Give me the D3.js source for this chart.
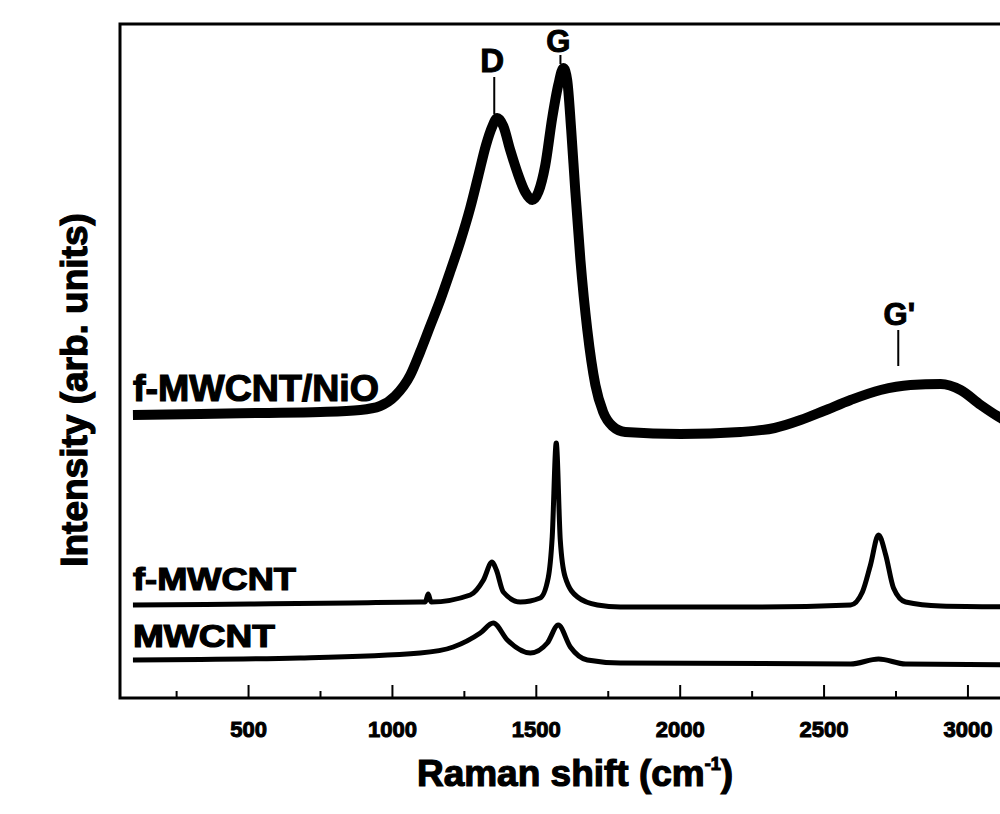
<!DOCTYPE html>
<html>
<head>
<meta charset="utf-8">
<script src="https://cdn.jsdelivr.net/npm/d3@7"></script>
<style>
  body { margin: 0; background: #fff; }
  text { font-family: "Liberation Sans", Arial, sans-serif; font-weight: bold; fill: #000; }
</style>
</head>
<body>
<script>
// Raman shift (cm-1) and intensity (arb. units)
const nioShift = [100, 334, 542, 751, 890, 959, 1011, 1064, 1098, 1133, 1168, 1202, 1237, 1272, 1300, 1327, 1348, 1366, 1387, 1411, 1439, 1463, 1488, 1509, 1533, 1557, 1578, 1596, 1609, 1623, 1637, 1655, 1679, 1707, 1734, 1766, 1811, 2003, 2211, 2330, 2420, 2500, 2594, 2698, 2802, 2907, 2976, 3046, 3115, 3185];
const nioInt   = [283, 284, 285, 286, 288, 292, 302, 323, 346, 372, 398, 426, 456, 490, 522, 553, 571, 580, 572, 548, 523, 506, 498, 506, 533, 580, 613, 630, 618, 568, 508, 438, 368, 313, 286, 272, 266, 264, 266, 270, 278, 287, 298, 308, 313, 314, 308, 293, 280, 270];

const fShift = [100, 507, 855, 1098, 1116, 1126, 1136, 1272, 1318, 1348, 1363, 1387, 1446, 1515, 1543, 1557, 1571, 1585, 1602, 1645, 1714, 1794, 2246, 2594, 2635, 2663, 2691, 2716, 2743, 2785, 2907, 3185];
const fInt   = [93, 94, 95, 96, 96, 104, 96, 103, 118, 136, 128, 106, 96, 100, 120, 161, 255, 158, 121, 101, 93, 91, 91, 93, 106, 133, 163, 143, 110, 96, 92, 91];

const mShift = [100, 681, 1098, 1213, 1307, 1352, 1401, 1481, 1540, 1578, 1620, 1679, 1794, 2594, 2691, 2785, 3185];
const mInt   = [38, 40, 45, 51, 65, 75, 58, 45, 55, 73, 51, 38, 35, 34, 39, 34, 33];

const seriesNames = ['f-MWCNT/NiO', 'f-MWCNT', 'MWCNT'];
const majorTicks = [500, 1000, 1500, 2000, 2500, 3000];
const minorTicks = [250, 750, 1250, 1750, 2250, 2750];
const peakNames = ['D', 'G', "G'"];
const peakShift = [1366, 1596, 2770];
const peakInt   = [580, 630, 328];

const width = 1000;
const height = 814;
const plotLeft = 120, plotTop = 24, plotBottom = 698, plotRight = 1025;

const x = d3.scaleLinear().domain([55, 3200]).range([plotLeft, plotRight]);
const y = d3.scaleLinear().domain([0, 674]).range([plotBottom, plotTop]);

const svg = d3.select('body').append('svg')
  .attr('width', width)
  .attr('height', height);

svg.append('defs').append('clipPath')
  .attr('id', 'plot')
  .append('rect')
  .attr('x', plotLeft).attr('y', plotTop)
  .attr('width', plotRight - plotLeft).attr('height', plotBottom - plotTop);

const line = d3.line()
  .x(d => x(d[0]))
  .y(d => y(d[1]))
  .curve(d3.curveMonotoneX);

const series = [
  { name: seriesNames[0], pts: d3.zip(nioShift, nioInt), w: 10 },
  { name: seriesNames[1], pts: d3.zip(fShift, fInt), w: 5 },
  { name: seriesNames[2], pts: d3.zip(mShift, mInt), w: 5 }
];

// spectra
svg.append('g').attr('clip-path', 'url(#plot)')
  .selectAll('path')
  .data(series)
  .enter()
    .append('path')
    .attr('d', d => line(d.pts))
    .attr('fill', 'none')
    .attr('stroke', '#000')
    .attr('stroke-width', d => d.w)
    .attr('stroke-linejoin', 'round');

// bottom axis, ticks point inward
const axis = svg.append('g')
  .attr('transform', `translate(0,${plotBottom})`)
  .call(d3.axisBottom(x).tickValues(majorTicks).tickFormat(d3.format('d'))
    .tickSize(-13).tickPadding(23).tickSizeOuter(0));
axis.select('.domain').remove();
axis.selectAll('line').attr('stroke-width', 2);
axis.selectAll('text')
  .style('font-size', '22px')
  .attr('stroke', '#000').attr('stroke-width', 1);

svg.append('g')
  .attr('transform', `translate(0,${plotBottom})`)
  .call(d3.axisBottom(x).tickValues(minorTicks).tickSize(-7).tickFormat(''))
  .call(g => g.select('.domain').remove())
  .selectAll('line').attr('stroke-width', 2);

// frame
svg.append('rect')
  .attr('x', plotLeft).attr('y', plotTop)
  .attr('width', plotRight - plotLeft).attr('height', plotBottom - plotTop)
  .attr('fill', 'none')
  .attr('stroke', '#000')
  .attr('stroke-width', 3);

// series labels
const labelPos = [[133, 401, 246], [133, 590, 163], [133, 647, 142]];
svg.append('g')
  .selectAll('text')
  .data(seriesNames)
  .enter()
    .append('text')
    .attr('x', (d, i) => labelPos[i][0])
    .attr('y', (d, i) => labelPos[i][1])
    .attr('textLength', (d, i) => labelPos[i][2])
    .attr('lengthAdjust', 'spacingAndGlyphs')
    .style('font-size', (d, i) => i === 0 ? '36px' : '31px')
    .attr('stroke', '#000').attr('stroke-width', 1.2)
    .text(d => d);

// peak markers
const peakLabelY = [72, 52, 325];
const peakLineTop = [77, 55, 330];
const peaks = svg.append('g');
peaks.selectAll('line')
  .data(peakNames)
  .enter()
    .append('line')
    .attr('x1', (d, i) => x(peakShift[i]) - 3)
    .attr('x2', (d, i) => x(peakShift[i]) - 3)
    .attr('y1', (d, i) => peakLineTop[i])
    .attr('y2', (d, i) => y(peakInt[i]) - 4)
    .attr('stroke', '#000')
    .attr('stroke-width', 2);
peaks.selectAll('text')
  .data(peakNames)
  .enter()
    .append('text')
    .attr('x', (d, i) => x(peakShift[i]) - (i === 2 ? 2 : 5))
    .attr('y', (d, i) => peakLabelY[i])
    .attr('text-anchor', 'middle')
    .style('font-size', (d, i) => i === 0 ? '33px' : '31px')
    .attr('stroke', '#000').attr('stroke-width', 1)
    .text(d => d);

// axis titles
const xTitle = svg.append('text')
  .attr('x', 575)
  .attr('y', 786)
  .attr('text-anchor', 'middle')
  .style('font-size', '37px')
  .attr('stroke', '#000').attr('stroke-width', 1.2);
xTitle.append('tspan').text('Raman shift (cm');
xTitle.append('tspan').attr('dy', -16).style('font-size', '18px').text('-1');
xTitle.append('tspan').attr('dy', 16).text(')');

svg.append('text')
  .attr('transform', 'translate(87,390) rotate(-90)')
  .attr('text-anchor', 'middle')
  .style('font-size', '37px')
  .attr('stroke', '#000').attr('stroke-width', 1.2)
  .text('Intensity (arb. units)');
</script>
</body>
</html>
